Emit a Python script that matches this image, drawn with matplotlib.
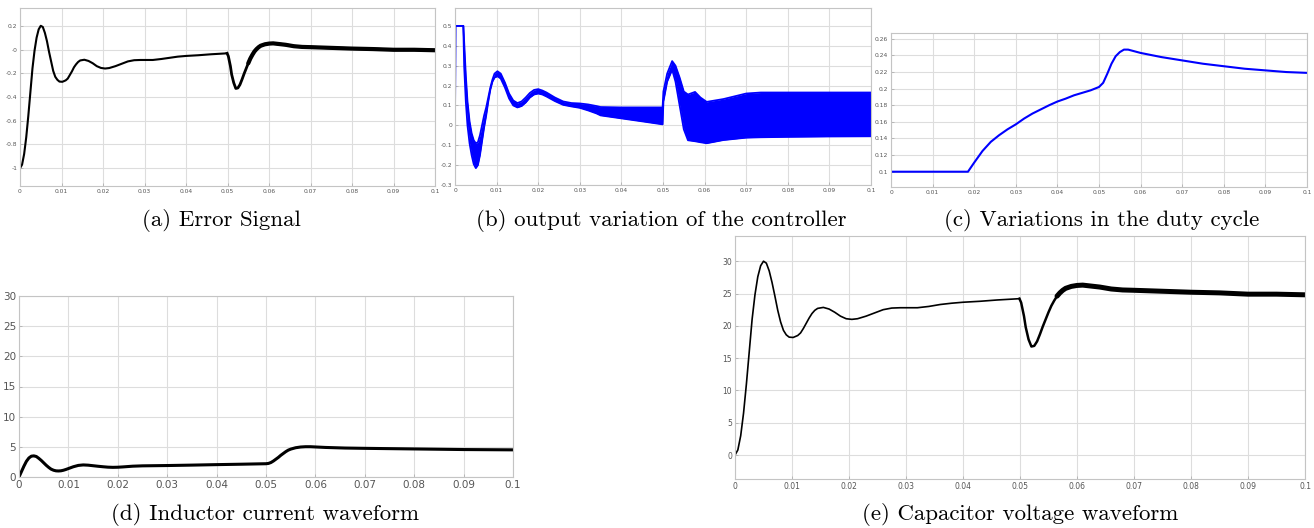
import numpy as np
import matplotlib
matplotlib.use('Agg')
import matplotlib.pyplot as plt
from matplotlib.ticker import FuncFormatter

# ---- data ----
# shared time base for (a) and (e)
t_sim = [0, 0.0005, 0.001, 0.0015, 0.002, 0.0025, 0.003, 0.0035, 0.004, 0.0045,
         0.005, 0.0055, 0.006, 0.0065, 0.007, 0.0075, 0.008, 0.0085, 0.009, 0.0095,
         0.0102, 0.011, 0.0115, 0.012, 0.0125, 0.013, 0.0135, 0.014, 0.0145, 0.0155,
         0.0165, 0.0175, 0.0185, 0.0195, 0.0205, 0.0215, 0.023, 0.0245, 0.026, 0.0275,
         0.029, 0.032, 0.034, 0.036, 0.038, 0.040, 0.043, 0.046, 0.0499, 0.0502,
         0.0507, 0.051, 0.0515, 0.052, 0.0525, 0.053, 0.0535, 0.054, 0.0545, 0.055,
         0.0555, 0.056, 0.0565, 0.057, 0.0575, 0.058, 0.059, 0.060, 0.061, 0.062,
         0.064, 0.066, 0.068, 0.070, 0.075, 0.080, 0.085, 0.090, 0.095, 0.100]

# (a) error signal
err = [-1.0, -0.97, -0.88, -0.74, -0.56, -0.36, -0.16, -0.01, 0.10, 0.17,
       0.20, 0.19, 0.14, 0.07, -0.02, -0.10, -0.18, -0.23, -0.255, -0.27,
       -0.272, -0.26, -0.245, -0.215, -0.185, -0.15, -0.125, -0.105, -0.092, -0.086,
       -0.096, -0.115, -0.14, -0.155, -0.16, -0.156, -0.14, -0.12, -0.10, -0.09,
       -0.088, -0.088, -0.08, -0.07, -0.06, -0.054, -0.048, -0.04, -0.032, -0.056,
       -0.14, -0.21, -0.28, -0.328, -0.324, -0.296, -0.252, -0.204, -0.16, -0.116,
       -0.076, -0.044, -0.016, 0.004, 0.02, 0.032, 0.044, 0.05, 0.052, 0.048,
       0.04, 0.028, 0.022, 0.02, 0.014, 0.008, 0.004, -0.002, -0.002, -0.006]

# (e) capacitor voltage
vc = [0, 0.8, 3.0, 6.5, 11.0, 16.0, 21.0, 24.8, 27.6, 29.3,
      30.0, 29.7, 28.5, 26.7, 24.6, 22.4, 20.6, 19.3, 18.6, 18.25,
      18.2, 18.5, 18.9, 19.6, 20.4, 21.2, 21.9, 22.4, 22.7, 22.85,
      22.6, 22.1, 21.5, 21.1, 21.0, 21.1, 21.5, 22.0, 22.5, 22.75,
      22.8, 22.8, 23.0, 23.3, 23.5, 23.65, 23.8, 24.0, 24.2, 23.6,
      21.5, 19.8, 17.9, 16.8, 16.9, 17.6, 18.7, 19.9, 21.0, 22.1,
      23.1, 23.9, 24.6, 25.1, 25.5, 25.8, 26.1, 26.25, 26.3, 26.2,
      26.0, 25.7, 25.55, 25.5, 25.35, 25.2, 25.1, 24.9, 24.9, 24.8]

# (b) controller output: upper / lower envelope of the ripple band
t_ctl = [0, 0.0001, 0.002, 0.0022, 0.0026, 0.003, 0.0035, 0.004, 0.0045, 0.005,
         0.0055, 0.006, 0.0065, 0.007, 0.0075, 0.008, 0.0085, 0.009, 0.0095, 0.0102,
         0.011, 0.012, 0.013, 0.014, 0.015, 0.016, 0.017, 0.018, 0.019, 0.020,
         0.021, 0.022, 0.024, 0.026, 0.028, 0.030, 0.032, 0.034, 0.035, 0.040,
         0.045, 0.0499, 0.0501, 0.051, 0.0522, 0.053, 0.054, 0.055, 0.056, 0.0577,
         0.059, 0.0605, 0.0645, 0.070, 0.0735, 0.080, 0.090, 0.100]
ctl_hi = [0, 0.5, 0.5, 0.42, 0.25, 0.12, 0.02, -0.04, -0.075, -0.09,
          -0.085, -0.05, 0.0, 0.05, 0.09, 0.14, 0.19, 0.23, 0.26, 0.272,
          0.26, 0.215, 0.16, 0.125, 0.112, 0.12, 0.14, 0.163, 0.178, 0.182,
          0.175, 0.165, 0.14, 0.12, 0.112, 0.11, 0.105, 0.097, 0.092, 0.09,
          0.09, 0.09, 0.17, 0.26, 0.323, 0.30, 0.24, 0.17, 0.155, 0.168,
          0.14, 0.118, 0.132, 0.16, 0.165, 0.165, 0.165, 0.165]
ctl_lo = [0, 0.5, 0.5, 0.30, 0.12, 0.0, -0.09, -0.15, -0.195, -0.215,
          -0.2, -0.15, -0.08, -0.01, 0.05, 0.12, 0.18, 0.22, 0.24, 0.247,
          0.235, 0.19, 0.135, 0.10, 0.09, 0.097, 0.115, 0.14, 0.155, 0.16,
          0.155, 0.145, 0.122, 0.103, 0.095, 0.088, 0.075, 0.06, 0.05, 0.035,
          0.02, 0.005, 0.12, 0.22, 0.28, 0.22, 0.10, -0.02, -0.075, -0.08,
          -0.085, -0.09, -0.074, -0.062, -0.06, -0.058, -0.056, -0.055]

# (c) duty cycle
t_duty = [0, 0.0185, 0.020, 0.022, 0.024, 0.026, 0.028, 0.030, 0.032, 0.034, 0.036,
          0.038, 0.040, 0.042, 0.044, 0.046, 0.048, 0.050, 0.051, 0.052, 0.053, 0.054,
          0.055, 0.056, 0.057, 0.060, 0.065, 0.070, 0.075, 0.080, 0.085, 0.090, 0.095,
          0.100]
duty = [0.1, 0.1, 0.111, 0.125, 0.136, 0.144, 0.151, 0.157, 0.164, 0.170, 0.175,
        0.180, 0.1845, 0.188, 0.192, 0.195, 0.198, 0.202, 0.207, 0.218, 0.230, 0.239,
        0.244, 0.247, 0.247, 0.243, 0.238, 0.234, 0.230, 0.227, 0.224, 0.222, 0.220,
        0.219]

# (d) inductor current
t_il = [0, 0.0005, 0.001, 0.0015, 0.002, 0.0025, 0.003, 0.0035, 0.004, 0.0045,
        0.005, 0.0055, 0.006, 0.0065, 0.007, 0.0075, 0.008, 0.0085, 0.009, 0.0095,
        0.010, 0.011, 0.012, 0.013, 0.014, 0.015, 0.016, 0.017, 0.018, 0.019,
        0.020, 0.021, 0.022, 0.023, 0.025, 0.030, 0.035, 0.040, 0.045, 0.050,
        0.0505, 0.051, 0.0515, 0.052, 0.0525, 0.053, 0.0535, 0.054, 0.0545, 0.055,
        0.056, 0.057, 0.058, 0.059, 0.060, 0.062, 0.066, 0.070, 0.080, 0.090,
        0.100]
il = [0, 0.9, 1.8, 2.6, 3.15, 3.45, 3.5, 3.4, 3.1, 2.75,
      2.35, 1.95, 1.6, 1.3, 1.12, 1.02, 1.0, 1.03, 1.12, 1.25,
      1.4, 1.7, 1.92, 2.0, 1.96, 1.87, 1.78, 1.7, 1.63, 1.6,
      1.62, 1.67, 1.73, 1.79, 1.85, 1.9, 1.97, 2.05, 2.12, 2.2,
      2.25, 2.4, 2.65, 2.95, 3.25, 3.6, 3.9, 4.2, 4.45, 4.62,
      4.85, 4.97, 5.02, 5.02, 4.98, 4.9, 4.8, 4.75, 4.65, 4.55,
      4.5]

W, H = 1314, 528
fig = plt.figure(figsize=(W / 100, H / 100), dpi=100)


def box(l, r, t, b):
    return [l / W, 1 - b / H, (r - l) / W, (b - t) / H]


def style(ax, yticks, ylim, fs):
    ax.set_xlim(0, 0.1)
    ax.set_ylim(*ylim)
    ax.set_xticks(np.linspace(0, 0.1, 11))
    ax.set_yticks(yticks)
    fmt = FuncFormatter(lambda v, p: f'{round(v, 4):g}')
    ax.xaxis.set_major_formatter(fmt)
    ax.yaxis.set_major_formatter(fmt)
    ax.grid(True, color='#dddddd', lw=0.8)
    ax.set_axisbelow(True)
    for s in ax.spines.values():
        s.set_color('#c4c4c4')
        s.set_linewidth(0.8)
    ax.tick_params(direction='in', length=2, width=0.6, color='#b0b0b0',
                   labelsize=fs, labelcolor='#555555', pad=2)


def caption(x, y, s):
    fig.text(x / W, 1 - y / H, s, ha='center', va='center',
             family='cmr10', fontsize=16.5)


t_sim = np.array(t_sim)
err = np.array(err)
vc = np.array(vc)

# (a)
ax = fig.add_axes(box(20, 435, 8, 186))
m = t_sim <= 0.0499
ax.plot(t_sim[m], err[m], color='black', lw=1.5)
m = t_sim >= 0.0499
ax.plot(t_sim[m], err[m], color='black', lw=2.0)
m = t_sim >= 0.055
ax.plot(t_sim[m], err[m], color='black', lw=3.0, solid_capstyle='round')
style(ax, np.arange(-1, 0.21, 0.2), (-1.15, 0.35), 4.3)
caption(221, 220, '(a) Error Signal')

# (b)
ax = fig.add_axes(box(455, 871, 8, 185))
ax.fill_between(t_ctl, ctl_lo, ctl_hi, color='#0000ff', lw=0)
ax.plot(t_ctl, ctl_hi, color='#0000ff', lw=1.3)
ax.plot(t_ctl, ctl_lo, color='#0000ff', lw=1.3)
style(ax, np.arange(-0.3, 0.51, 0.1), (-0.3, 0.59), 4.3)
caption(661, 220, '(b) output variation of the controller')

# (c)
ax = fig.add_axes(box(891, 1307, 33, 187))
ax.plot(t_duty, duty, color='#0000ff', lw=1.5)
style(ax, np.arange(0.1, 0.261, 0.02), (0.0816, 0.267), 4.3)
caption(1102, 220, '(c) Variations in the duty cycle')

# (d)
ax = fig.add_axes(box(19, 513, 296, 477))
ax.plot(t_il, il, color='black', lw=2.2)
style(ax, np.arange(0, 31, 5), (0, 30), 7.5)
caption(265, 515, '(d) Inductor current waveform')

# (e)
ax = fig.add_axes(box(735, 1305, 236, 479))
m = t_sim <= 0.0499
ax.plot(t_sim[m], vc[m], color='black', lw=1.2)
m = t_sim >= 0.0499
ax.plot(t_sim[m], vc[m], color='black', lw=1.8)
m = t_sim >= 0.0565
ax.plot(t_sim[m], vc[m], color='black', lw=3.6, solid_capstyle='round')
style(ax, np.arange(0, 31, 5), (-3.7, 33.9), 5.5)
caption(1020, 515, '(e) Capacitor voltage waveform')

fig.savefig('out.png', dpi=100)
